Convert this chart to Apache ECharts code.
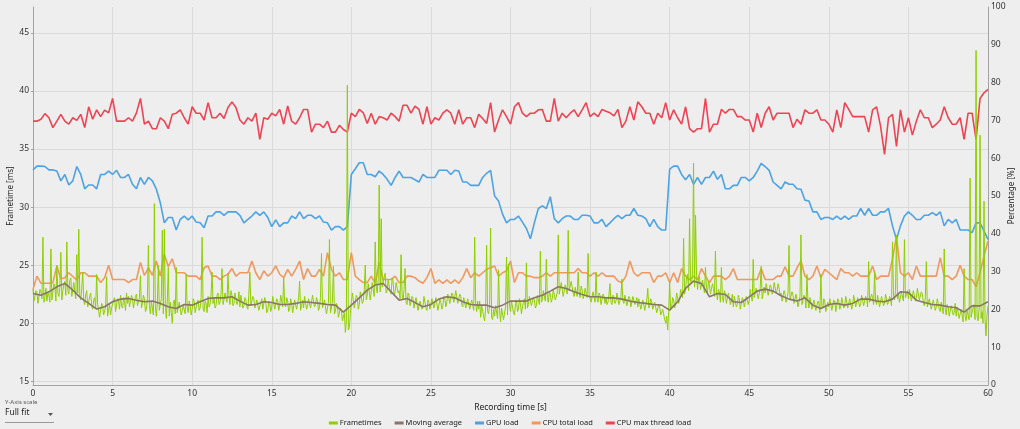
<!DOCTYPE html>
<html>
<head>
<meta charset="utf-8">
<script src="https://cdn.jsdelivr.net/npm/echarts@6/dist/echarts.min.js"></script>
<style>
html, body { margin: 0; padding: 0; background: #eeeeee; }
#chart { width: 1020px; height: 429px; }
</style>
</head>
<body>
<div id="chart"></div>
<script>
var seriesNames = ['Frametimes', 'Moving average', 'GPU load', 'CPU total load', 'CPU max thread load'];
var seriesColors = ['#8fcf00', '#8a7566', '#4ba3e5', '#f0985e', '#ee4451'];
var frametimeTicks = [15, 20, 25, 30, 35, 40, 45];

// sampling steps in seconds
var frameStep = 0.0625;
var avgStep = 0.5;
var sensorStep = 0.25;

// frametimes [ms], one row per second
var frametimes = [
    22.9, 21.9, 22.0, 22.8, 22.6, 21.7, 21.8, 22.9, 22.7, 22.1, 27.4, 21.8, 22.3, 23.0, 21.9, 22.6,
    22.4, 21.8, 26.4, 22.0, 22.1, 23.4, 23.2, 21.9, 25.0, 22.6, 22.3, 23.1, 26.1, 22.0, 22.8, 23.3,
    23.6, 22.4, 27.0, 22.8, 22.5, 23.7, 23.9, 22.3, 22.2, 23.5, 23.4, 22.1, 25.9, 22.6, 28.1, 22.4,
    22.0, 23.0, 24.4, 21.9, 21.6, 22.5, 22.8, 21.4, 21.3, 22.3, 22.6, 21.5, 21.2, 22.0, 22.2, 21.3,
    24.2, 21.6, 21.0, 20.5, 20.6, 21.7, 21.5, 20.7, 20.8, 21.4, 24.0, 20.6, 21.2, 21.6, 20.7, 21.3,
    21.4, 22.0, 22.2, 21.0, 21.1, 22.1, 21.9, 21.2, 22.4, 21.5, 21.3, 22.2, 21.8, 21.1, 22.6, 21.7,
    22.3, 21.4, 21.5, 22.4, 22.1, 21.3, 21.4, 22.3, 22.5, 21.5, 21.6, 22.2, 24.1, 21.3, 21.7, 22.4,
    22.1, 21.0, 21.2, 22.2, 26.7, 21.5, 20.8, 21.9, 22.0, 20.7, 30.3, 21.4, 20.6, 21.8, 25.0, 21.1,
    21.0, 22.1, 28.0, 20.8, 28.1, 21.6, 20.4, 22.0, 24.8, 20.6, 21.8, 20.9, 20.0, 21.7, 22.0, 20.8,
    24.8, 20.9, 21.0, 21.8, 21.9, 20.7, 20.6, 21.5, 21.6, 20.8, 24.2, 21.3, 20.9, 21.9, 21.5, 20.7,
    21.2, 22.1, 21.9, 20.9, 20.8, 21.8, 22.0, 21.1, 21.3, 22.2, 27.4, 21.2, 21.0, 21.9, 21.7, 20.9,
    22.3, 21.4, 21.6, 22.5, 24.4, 21.7, 22.1, 21.3, 21.5, 22.4, 22.6, 21.6, 21.8, 22.5, 24.7, 21.6,
    22.0, 22.6, 22.7, 21.8, 24.3, 22.2, 21.6, 22.8, 22.4, 21.5, 21.7, 22.6, 22.5, 21.6, 21.9, 22.7,
    21.4, 22.4, 22.3, 21.3, 21.5, 22.2, 22.0, 21.4, 21.2, 22.5, 24.4, 21.5, 21.6, 22.3, 22.1, 21.3,
    21.2, 22.0, 21.9, 21.1, 21.0, 21.8, 22.1, 21.2, 21.3, 22.2, 21.8, 20.9, 21.1, 21.9, 21.7, 21.0,
    21.4, 22.3, 22.2, 21.2, 21.3, 22.1, 21.9, 21.1, 21.5, 22.4, 22.3, 21.4, 23.9, 21.6, 21.4, 22.2,
    21.9, 21.0, 21.2, 22.1, 21.7, 20.9, 21.0, 22.0, 22.1, 21.2, 21.3, 22.2, 23.6, 21.1, 21.5, 22.0,
    21.3, 22.3, 22.2, 21.2, 21.5, 22.1, 22.0, 21.3, 21.2, 22.4, 22.3, 21.4, 21.6, 22.2, 21.9, 21.1,
    21.4, 22.2, 26.0, 21.3, 21.2, 22.0, 21.9, 20.8, 20.9, 21.8, 27.2, 20.9, 21.3, 21.9, 24.9, 20.8,
    21.0, 21.7, 21.5, 20.5, 20.6, 21.3, 21.1, 20.2, 20.3, 20.9, 19.2, 20.1, 40.5, 19.4, 19.6, 20.8,
    21.8, 22.6, 22.5, 21.3, 21.4, 22.4, 22.2, 21.2, 21.6, 22.7, 22.8, 21.7, 21.9, 22.9, 25.0, 22.0,
    22.4, 23.4, 23.3, 22.0, 22.1, 23.5, 23.6, 22.3, 27.0, 23.2, 22.6, 23.8, 31.9, 22.7, 29.0, 23.1,
    23.0, 23.9, 24.3, 22.6, 22.8, 23.7, 23.8, 22.7, 22.5, 23.9, 23.6, 22.4, 22.7, 23.5, 23.4, 22.6,
    22.8, 22.1, 25.9, 22.5, 22.0, 22.9, 24.7, 21.8, 21.6, 22.6, 22.4, 21.5, 21.4, 22.3, 22.1, 21.3,
    21.3, 22.2, 22.1, 21.1, 21.0, 21.9, 21.9, 21.2, 21.4, 22.3, 22.2, 21.3, 21.1, 22.0, 21.8, 21.2,
    21.2, 22.1, 22.0, 21.3, 21.4, 22.2, 22.3, 21.1, 21.0, 22.0, 21.8, 21.2, 21.5, 22.3, 22.1, 21.4,
    21.8, 22.5, 22.6, 21.7, 21.7, 22.6, 22.4, 21.8, 21.9, 22.8, 22.7, 21.7, 21.6, 22.5, 22.3, 21.6,
    21.4, 22.2, 22.1, 21.3, 21.2, 22.1, 22.0, 21.2, 21.3, 22.0, 21.9, 21.1, 27.4, 21.6, 21.0, 21.9,
    21.2, 21.9, 20.5, 21.5, 21.6, 20.6, 20.2, 21.3, 26.7, 21.0, 20.8, 21.6, 28.2, 20.5, 20.3, 21.2,
    20.6, 21.5, 21.4, 20.4, 24.6, 21.1, 20.1, 21.3, 21.2, 20.3, 20.4, 21.4, 25.7, 20.7, 25.1, 21.5,
    21.0, 21.9, 21.8, 20.9, 20.7, 21.7, 22.0, 21.0, 21.2, 22.1, 21.7, 20.8, 20.9, 21.9, 22.1, 21.2,
    25.2, 21.3, 21.6, 22.3, 22.2, 21.5, 21.4, 22.2, 22.0, 21.3, 21.5, 22.4, 22.3, 21.6, 26.2, 21.8,
    22.0, 22.8, 22.7, 21.9, 25.5, 22.2, 21.8, 22.7, 22.5, 21.8, 22.1, 22.9, 22.8, 22.0, 21.9, 22.6,
    27.6, 22.5, 22.6, 23.5, 23.4, 22.3, 22.4, 23.3, 23.2, 22.5, 28.0, 22.8, 22.7, 23.6, 23.5, 22.6,
    22.3, 23.1, 23.0, 22.3, 24.4, 22.6, 22.2, 23.2, 22.9, 22.1, 22.4, 23.0, 23.1, 22.2, 26.0, 22.5,
    22.5, 21.8, 21.9, 22.7, 22.6, 21.8, 24.4, 22.1, 21.8, 22.6, 22.4, 21.6, 21.7, 22.5, 22.3, 21.7,
    22.2, 21.6, 21.8, 22.5, 23.4, 21.8, 21.6, 22.4, 22.3, 21.7, 21.9, 22.6, 22.1, 21.6, 21.5, 22.3,
    23.8, 21.9, 21.7, 22.4, 22.3, 21.5, 21.6, 22.3, 22.1, 21.4, 21.5, 22.3, 22.4, 21.6, 21.8, 22.2,
    21.4, 22.1, 22.0, 21.2, 21.3, 22.0, 21.9, 21.1, 21.2, 22.0, 23.0, 21.3, 21.5, 22.1, 21.8, 21.2,
    21.2, 21.8, 21.7, 20.9, 21.0, 21.6, 21.4, 20.7, 20.6, 21.2, 21.1, 20.3, 20.0, 20.6, 19.4, 21.0,
    23.6, 21.2, 21.4, 22.2, 22.0, 21.3, 21.6, 22.6, 22.5, 21.7, 22.0, 22.9, 23.0, 22.2, 27.3, 22.5,
    23.0, 24.0, 24.2, 22.8, 29.0, 23.6, 23.4, 24.3, 33.8, 23.1, 29.3, 24.1, 22.9, 23.8, 24.0, 22.9,
    22.8, 23.7, 23.6, 22.6, 24.8, 23.1, 22.6, 23.6, 23.3, 22.5, 22.4, 23.4, 23.0, 22.3, 26.2, 22.7,
    22.0, 22.9, 22.7, 21.8, 24.8, 22.3, 21.8, 22.8, 22.5, 21.7, 21.6, 22.6, 22.2, 21.6, 21.9, 22.5,
    21.4, 22.3, 22.3, 21.4, 21.6, 22.4, 22.1, 21.2, 21.3, 22.2, 22.0, 21.4, 21.5, 22.3, 22.4, 21.6,
    22.0, 22.9, 22.8, 21.9, 25.5, 22.2, 22.3, 23.0, 22.9, 22.1, 22.2, 23.0, 24.9, 22.1, 22.6, 23.1,
    22.6, 23.4, 23.3, 22.4, 22.5, 23.3, 23.1, 22.5, 22.7, 23.5, 23.4, 22.6, 22.8, 23.4, 23.0, 22.4,
    22.6, 21.9, 22.0, 22.8, 22.5, 21.8, 21.8, 22.6, 26.7, 22.0, 22.1, 22.7, 22.4, 21.7, 21.7, 22.5,
    22.0, 21.4, 21.5, 22.3, 27.6, 21.6, 21.7, 22.4, 22.2, 21.3, 24.2, 21.9, 21.3, 22.2, 21.8, 21.2,
    21.2, 22.0, 21.9, 21.1, 21.0, 21.9, 21.7, 20.9, 24.2, 21.5, 21.3, 22.1, 21.8, 21.0, 20.9, 21.8,
    21.4, 22.1, 22.0, 21.1, 21.2, 22.0, 21.8, 21.0, 21.1, 22.1, 21.9, 21.2, 21.5, 22.2, 22.1, 21.3,
    21.5, 22.3, 22.2, 21.3, 21.4, 22.1, 22.0, 21.2, 21.6, 22.4, 22.3, 21.4, 21.5, 22.2, 22.1, 21.4,
    21.7, 22.4, 22.3, 21.5, 21.6, 22.3, 22.1, 21.4, 25.3, 21.8, 21.9, 22.5, 22.2, 21.6, 24.4, 21.9,
    21.6, 22.4, 22.3, 21.4, 21.5, 22.3, 22.2, 21.5, 21.7, 22.5, 22.4, 21.6, 21.8, 22.3, 22.1, 21.5,
    27.0, 22.4, 22.0, 22.8, 27.6, 22.1, 22.5, 21.8, 21.9, 22.7, 22.8, 21.9, 27.2, 22.2, 22.3, 22.8,
    22.1, 22.9, 22.8, 21.9, 22.0, 22.8, 22.7, 21.9, 22.2, 23.0, 22.9, 22.0, 21.9, 22.7, 22.5, 21.8,
    21.5, 22.2, 25.3, 21.4, 21.3, 22.1, 22.0, 21.2, 21.2, 22.0, 21.9, 21.1, 21.4, 22.1, 21.7, 21.2,
    21.0, 21.8, 21.8, 20.8, 26.4, 21.2, 20.7, 21.6, 21.4, 20.6, 20.5, 21.5, 21.6, 20.7, 20.9, 21.7,
    20.6, 21.4, 21.4, 20.4, 20.3, 21.2, 21.1, 20.1, 24.7, 20.6, 20.2, 21.1, 21.0, 20.3, 32.5, 20.5,
    20.5, 21.3, 21.6, 20.3, 43.5, 20.6, 20.2, 21.2, 36.2, 20.4, 21.0, 20.0, 30.5, 20.3, 18.9, 20.7,
    21.5
];

// moving average [ms]
var movingAverage = [
    22.56, 22.41, 22.70, 23.13, 23.42, 22.85, 22.18, 21.70, 21.21, 21.41, 21.84, 22.07, 22.13,
    21.98, 21.84, 21.90, 21.70, 21.41, 21.26, 21.61, 21.55, 21.84, 22.13, 22.18, 22.18,
    22.27, 21.90, 21.55, 21.61, 21.84, 21.78, 21.61, 21.61, 21.70, 21.84, 21.78, 21.70,
    21.61, 21.55, 20.95, 21.55, 22.18, 22.85, 23.28, 23.42, 22.70, 21.98, 22.13, 21.77,
    21.41, 21.61, 22.07, 22.27, 22.18, 21.84, 21.61, 21.55, 21.55, 21.32, 21.55, 21.90,
    21.90, 21.90, 22.18, 22.41, 22.76, 23.13, 22.99, 22.70, 22.47, 22.27, 22.27, 22.18,
    22.18, 22.07, 21.90, 21.78, 21.70, 21.61, 21.55, 21.12, 21.84, 22.99, 23.62, 23.42,
    22.27, 22.56, 22.47, 21.84, 21.78, 22.27, 22.76, 22.93, 22.76, 22.36, 22.07, 21.90,
    22.18, 21.55, 21.26, 21.61, 21.70, 21.55, 21.70, 22.07, 22.07, 21.90, 21.84, 22.07,
    22.70, 22.64, 21.98, 21.78, 21.61, 21.55, 21.41, 21.32, 20.95, 21.49, 21.49, 21.84
];

// GPU load [%]
var gpuLoad = [
    56.9, 57.9, 57.9, 57.8, 56.9, 56.9, 56.6, 54.0, 55.7, 52.9,
    54.0, 57.8, 55.7, 51.9, 52.9, 52.9, 51.9, 55.7, 55.7, 56.6,
    55.7, 56.8, 54.9, 54.9, 55.7, 53.1, 51.9, 54.9, 53.1, 54.9,
    54.0, 51.8, 48.2, 42.9, 44.3, 44.3, 41.0, 43.8, 44.7, 43.7,
    44.7, 43.1, 42.9, 41.6, 44.7, 44.7, 45.8, 45.8, 44.9,
    45.8, 45.8, 45.8, 44.9, 42.9, 43.8, 44.7, 45.8, 44.9, 45.8,
    44.3, 41.9, 43.7, 41.9, 42.9, 42.9, 44.7, 44.0, 45.8, 44.0,
    44.9, 44.9, 44.0, 44.7, 43.1, 42.9, 41.0, 41.9, 41.9, 41.0,
    41.9, 55.7, 57.2, 58.8, 58.8, 55.7, 55.7, 55.1, 56.6, 55.7,
    54.4, 52.8, 54.9, 56.6, 54.9, 54.9, 54.9, 54.3,
    53.7, 55.7, 54.9, 54.9, 54.9, 56.8, 56.8, 56.8, 55.7, 56.8,
    56.6, 53.7, 53.7, 52.8, 52.8, 52.8, 54.9, 56.0, 56.8, 50.0,
    48.7, 45.2, 42.9, 43.8, 43.8, 44.7, 43.1, 41.4, 38.7, 42.9,
    46.7, 47.4, 46.7, 49.8, 44.0, 42.9, 44.0, 44.7, 44.7, 43.8,
    43.8, 44.9, 44.9, 44.7, 42.9, 42.9, 43.8, 41.9,
    42.9, 44.0, 44.9, 44.0, 44.9, 44.9, 46.7, 44.9, 44.7, 44.0,
    41.9, 43.8, 41.9, 41.0, 41.0, 57.1, 57.9, 57.9, 55.7, 54.3,
    55.7, 53.1, 54.9, 53.1, 54.9, 54.9, 56.6, 54.4, 55.7, 51.9,
    51.9, 52.8, 52.8, 54.9, 54.9, 54.0, 54.9, 56.6, 58.6, 57.8,
    56.8, 53.7, 52.8, 51.9, 53.7, 53.1, 53.1, 51.9,
    51.8, 48.9, 48.7, 45.8, 45.8, 43.8, 44.3, 44.3, 43.8, 44.7,
    43.8, 44.7, 43.8, 44.7, 44.7, 46.7, 44.9, 46.7, 44.9, 44.9,
    45.8, 45.8, 46.7, 42.1, 38.5, 42.1, 44.7, 45.8, 44.9, 43.8,
    43.8, 44.9, 44.9, 45.6, 44.9, 45.8, 42.1, 43.8, 42.9, 43.8,
    41.0, 41.0, 41.0, 40.3, 42.9, 42.9, 40.7, 38.5
];

// CPU total load [%]
var cpuTotalLoad = [
    25.3, 28.8, 26.9, 26.9, 26.9, 27.1, 31.5, 28.1, 28.4, 29.7,
    28.7, 27.8, 29.7, 29.7, 28.8, 28.8, 28.8, 27.1, 28.4, 31.7,
    27.9, 27.9, 27.9, 27.9, 27.1, 27.9, 27.9, 32.4, 29.0, 31.0,
    29.0, 32.8, 28.8, 34.6, 31.3, 33.4, 29.7, 29.7, 29.7, 28.8,
    28.8, 28.8, 27.9, 31.0, 31.5, 28.8, 28.8, 27.9, 28.8,
    29.3, 30.8, 28.8, 29.7, 29.7, 29.7, 32.8, 29.7, 27.9, 30.2,
    28.8, 29.7, 31.5, 29.3, 28.4, 30.6, 28.8, 30.6, 32.8, 27.9,
    30.8, 28.8, 28.8, 30.6, 28.8, 35.0, 30.6, 28.8, 29.7, 27.9,
    27.9, 35.0, 28.8, 27.9, 27.1, 27.1, 28.8, 26.9, 32.4, 27.9,
    27.9, 27.9, 28.8, 27.1, 27.1, 28.8, 28.8, 28.4,
    27.5, 26.9, 28.4, 30.8, 26.9, 27.8, 26.9, 27.8, 26.9, 27.8,
    26.9, 28.4, 30.8, 28.4, 29.7, 28.8, 29.7, 30.6, 31.0, 31.5,
    28.8, 29.7, 30.2, 32.8, 27.1, 29.7, 29.7, 28.8, 28.8, 28.4,
    28.4, 28.8, 29.7, 28.8, 29.7, 29.7, 29.7, 29.7, 29.7, 29.7,
    30.8, 29.7, 29.7, 28.8, 29.7, 28.8, 29.7, 28.8,
    28.8, 28.8, 27.5, 27.1, 28.8, 32.8, 29.7, 28.8, 29.7, 29.7,
    29.7, 27.1, 28.8, 28.8, 29.7, 27.1, 29.7, 27.1, 30.8, 28.8,
    27.9, 28.8, 27.9, 30.8, 28.8, 27.1, 28.8, 28.8, 28.8, 27.9,
    28.8, 30.8, 27.9, 27.9, 27.9, 27.9, 27.9, 27.9, 30.8, 27.9,
    27.9, 27.9, 28.8, 28.8, 31.3, 28.8, 28.8, 31.0,
    32.8, 28.8, 27.9, 28.8, 31.5, 28.4, 30.6, 29.7, 28.8, 27.9,
    30.8, 29.7, 29.7, 28.8, 29.7, 28.8, 28.8, 28.8, 31.5, 27.9,
    28.8, 28.8, 28.8, 33.3, 39.4, 29.7, 28.8, 29.7, 27.9, 31.5,
    28.8, 28.8, 28.8, 28.8, 28.8, 33.7, 28.8, 28.8, 27.9, 28.8,
    31.7, 28.8, 27.9, 27.9, 26.0, 29.7, 34.1, 38.1
];

// CPU max thread load [%]
var cpuMaxThreadLoad = [
    69.8, 69.8, 70.3, 71.8, 70.7, 68.1, 69.8, 71.6, 69.8, 69.0,
    70.7, 70.0, 71.6, 68.1, 73.6, 70.3, 72.8, 71.0, 72.7, 72.0,
    75.8, 69.8, 69.8, 69.8, 70.7, 69.8, 72.0, 75.8, 69.0, 69.8,
    67.8, 67.8, 70.7, 69.8, 67.8, 71.6, 71.9, 72.8, 70.7, 69.0,
    73.6, 71.9, 71.9, 70.1, 74.7, 70.7, 70.7, 71.9, 70.5,
    73.4, 74.9, 73.4, 70.1, 69.0, 70.7, 69.8, 71.9, 65.0, 70.7,
    70.3, 71.9, 71.2, 72.9, 69.0, 73.8, 69.8, 69.0, 70.7, 72.9,
    72.9, 66.9, 69.0, 69.0, 68.1, 69.8, 66.9, 66.9, 68.7, 67.6,
    66.9, 71.9, 71.0, 72.9, 72.0, 69.2, 71.9, 69.0, 71.0, 70.7,
    70.1, 71.9, 71.0, 69.8, 74.0, 74.0, 71.9, 73.8,
    72.9, 69.0, 73.6, 69.0, 70.7, 70.1, 71.9, 72.8, 71.9, 69.0,
    72.8, 69.0, 70.7, 70.7, 68.1, 71.6, 70.5, 69.2, 74.7, 66.9,
    70.1, 72.8, 71.0, 69.0, 73.6, 74.7, 71.9, 71.0, 71.9, 71.9,
    72.8, 72.9, 69.8, 69.8, 75.8, 69.8, 71.9, 70.7, 71.9, 72.8,
    71.0, 72.8, 74.7, 71.0, 71.9, 71.0, 72.9, 72.4,
    72.0, 71.2, 72.9, 68.1, 69.8, 73.6, 70.1, 74.9, 73.6, 71.9,
    71.9, 69.0, 71.9, 70.7, 74.7, 70.1, 72.8, 70.7, 69.0, 73.6,
    67.8, 66.9, 67.8, 67.8, 75.8, 66.9, 69.0, 69.0, 72.9, 71.9,
    72.9, 72.9, 71.0, 71.0, 70.1, 70.1, 66.9, 71.9, 68.1, 71.9,
    73.6, 70.1, 71.9, 71.9, 71.9, 71.9, 68.1, 70.3,
    69.0, 72.8, 71.9, 71.9, 72.8, 70.1, 70.1, 69.0, 66.9, 72.8,
    68.1, 74.7, 72.9, 71.0, 71.0, 71.0, 71.0, 66.9, 72.8, 73.6,
    68.5, 61.0, 70.7, 71.6, 63.1, 72.8, 66.9, 70.7, 66.1, 69.8,
    72.8, 70.7, 70.7, 68.1, 69.0, 70.1, 73.6, 70.7, 69.0, 69.0,
    70.7, 65.0, 71.9, 71.9, 65.0, 75.8, 77.3, 78.2
];

function toPairs(values, step) {
    var out = [];
    for (var i = 0; i < values.length; i++) {
        out.push([i * step, values[i]]);
    }
    return out;
}

var font = 'Noto Sans';
var chart = echarts.init(document.getElementById('chart'), null, {renderer: 'canvas'});

function lineSeries(idx, values, step, yAxisIndex, width, z) {
    return {
        name: seriesNames[idx],
        type: 'line',
        yAxisIndex: yAxisIndex,
        data: toPairs(values, step),
        showSymbol: false,
        symbol: 'none',
        sampling: null,
        z: z,
        lineStyle: {color: seriesColors[idx], width: width},
        itemStyle: {color: seriesColors[idx]}
    };
}

var option = {
    backgroundColor: '#eeeeee',
    animation: false,
    textStyle: {fontFamily: font},
    grid: {left: 33, right: 32, top: 7, bottom: 44, outerBoundsMode: 'none', containLabel: false},
    legend: {
        data: seriesNames,
        left: 'center',
        top: 414,
        icon: 'rect',
        itemWidth: 9,
        itemHeight: 3,
        itemGap: 13,
        textStyle: {fontSize: 7.5, color: '#222', fontFamily: font, padding: [0, 0, 0, -3]}
    },
    xAxis: {
        type: 'value',
        min: 0,
        max: 60,
        interval: 5,
        name: 'Recording time [s]',
        nameLocation: 'middle',
        nameGap: 14,
        nameTextStyle: {fontSize: 8.5, color: '#222', fontFamily: font},
        axisLine: {lineStyle: {color: '#a3a3a3'}},
        axisTick: {show: false},
        axisLabel: {fontSize: 8.5, color: '#333', margin: 4, fontFamily: font},
        splitLine: {lineStyle: {color: '#dadada'}}
    },
    yAxis: [
        {
            type: 'value',
            position: 'left',
            min: 14.67,
            max: 47.24,
            name: 'Frametime [ms]',
            nameLocation: 'middle',
            nameRotate: 90,
            nameGap: 18,
            nameMoveOverlap: false,
            nameTextStyle: {fontSize: 8, color: '#222', fontFamily: font},
            axisLine: {show: true, lineStyle: {color: '#a3a3a3'}},
            axisTick: {show: true, length: 2, customValues: frametimeTicks, lineStyle: {color: '#a3a3a3'}},
            axisLabel: {fontSize: 8.5, color: '#333', margin: 4, fontFamily: font, customValues: frametimeTicks},
            splitLine: {show: true, lineStyle: {color: '#dadada'}}
        },
        {
            type: 'value',
            position: 'right',
            min: 0,
            max: 100,
            interval: 10,
            name: 'Percentage [%]',
            nameLocation: 'middle',
            nameRotate: 90,
            nameGap: 20,
            nameMoveOverlap: false,
            nameTextStyle: {fontSize: 8, color: '#222', fontFamily: font},
            axisLine: {show: true, lineStyle: {color: '#a3a3a3'}},
            axisTick: {show: false},
            axisLabel: {fontSize: 8.5, color: '#333', margin: 3, fontFamily: font},
            splitLine: {show: false}
        }
    ],
    graphic: [
        {type: 'text', left: 5, top: 399, style: {text: 'Y-Axis scale', fontSize: 6, fill: '#555', fontFamily: font}},
        {type: 'text', left: 5, top: 408, style: {text: 'Full fit', fontSize: 8.5, fill: '#222', fontFamily: font}},
        {type: 'polygon', shape: {points: [[48, 413], [53, 413], [50.5, 416]]}, style: {fill: '#555'}},
        {type: 'line', shape: {x1: 5, y1: 422.5, x2: 54, y2: 422.5}, style: {stroke: '#9a9a9a', lineWidth: 1}}
    ],
    series: [
        lineSeries(0, frametimes, frameStep, 0, 1, 3),
        lineSeries(1, movingAverage, avgStep, 0, 1.6, 4),
        lineSeries(2, gpuLoad, sensorStep, 1, 1.6, 2),
        lineSeries(3, cpuTotalLoad, sensorStep, 1, 1.6, 2),
        lineSeries(4, cpuMaxThreadLoad, sensorStep, 1, 1.6, 2)
    ]
};
chart.setOption(option);
</script>
</body>
</html>
